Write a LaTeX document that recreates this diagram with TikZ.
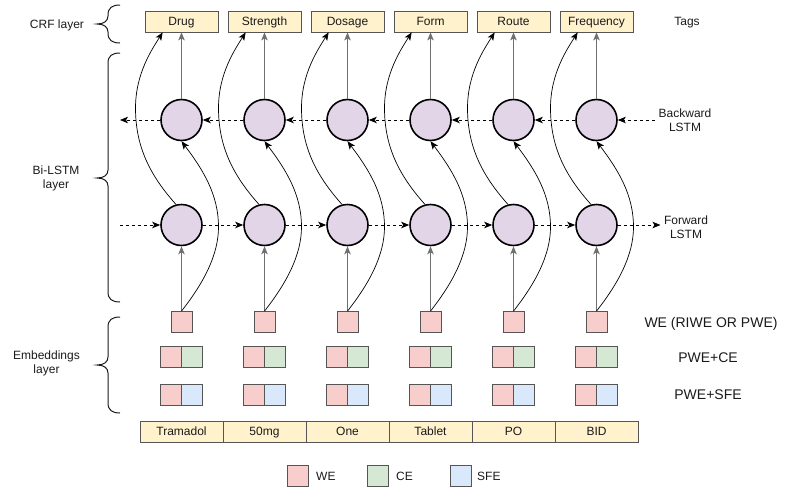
\documentclass[tikz,border=0pt]{standalone}
\usepackage{fontspec}
\setmainfont{Liberation Sans}
\usetikzlibrary{arrows.meta,calc}
\definecolor{pinkf}{HTML}{F8CECC}
\definecolor{greenf}{HTML}{D5E8D4}
\definecolor{bluef}{HTML}{DAE8FC}
\definecolor{yellowf}{HTML}{FFF2CC}
\definecolor{purplef}{HTML}{E1D5E7}
\definecolor{boxline}{HTML}{555555}
\definecolor{arrgray}{HTML}{707070}
\definecolor{txt}{HTML}{1A1A1A}
\newcommand\layerbrace[3]{%
  \draw[line width=1pt,txt] (120,#1) .. controls (112,#1) and (108,#1+3) .. (108,#1+10)
    -- (108,#3-8) .. controls (108,#3-3) and (104,#3) .. (97,#3)
    .. controls (104,#3) and (108,#3+3) .. (108,#3+8)
    -- (108,#2-10) .. controls (108,#2-3) and (112,#2) .. (120,#2);}
\begin{document}
\begin{tikzpicture}[x=1pt,y=-1pt,
  font=\fontsize{12}{14}\selectfont, text=txt,
  capcenter/.style={text height=8.6pt, text depth=0pt},
  tagbox/.style={capcenter, draw=boxline, fill=yellowf, minimum width=73pt, minimum height=21pt, inner sep=0pt, line width=0.8pt},
  wordcell/.style={capcenter, draw=boxline, fill=yellowf, minimum width=83pt, minimum height=21pt, inner sep=0pt, line width=0.8pt},
  lstm/.style={circle, draw=black, line width=1.6pt, fill=purplef, minimum size=41pt, inner sep=0pt},
  sq/.style={draw=boxline, line width=0.8pt, minimum width=21pt, minimum height=21pt, inner sep=0pt},
  tip/.style={-{Stealth[length=8pt,width=6.5pt,inset=2pt]}},
  vline/.style={tip, draw=arrgray, line width=1pt},
  curveline/.style={tip, draw=black, line width=0.7pt},
  dashline/.style={tip, draw=black, line width=0.8pt, dash pattern=on 3pt off 3pt},
  biglabel/.style={font=\fontsize{14}{17}\selectfont, text height=10pt, text depth=0pt}
]
\useasboundingbox (0,0) rectangle (800,498);

\foreach \i/\tg/\wordtxt in {1/Drug/Tramadol, 2/Strength/50mg, 3/Dosage/One, 4/Form/Tablet, 5/Route/PO, 6/Frequency/BID}{
  \pgfmathsetmacro\c{181.5+83*(\i-1)}
  \node[tagbox] (t\i) at (\c,21.5) {\tg};
  \node[lstm] (b\i) at (\c,120) {};
  \node[lstm] (f\i) at (\c,225) {};
  \node[sq,fill=pinkf] (we\i) at (\c,322) {};
  \node[sq,fill=pinkf] (pa\i) at (\c-10.5,357) {};
  \node[sq,fill=greenf] (pc\i) at (\c+10.5,357) {};
  \node[sq,fill=pinkf] (pb\i) at (\c-10.5,394.5) {};
  \node[sq,fill=bluef] (ps\i) at (\c+10.5,394.5) {};
  \node[wordcell] (w\i) at (\c,431.5) {\wordtxt};
  \coordinate (mr\i) at (\c+37,227);
  \coordinate (ml\i) at (\c-46,108);
  \draw[vline] (we\i.north) -- (f\i.south);
  \draw[vline] (b\i.north) -- (t\i.south);
  \draw[curveline] (we\i.north) .. controls +(22,-28) and +(0,28) .. (mr\i)
       .. controls +(0,-32) and +(22,29) .. (b\i.south);
  \draw[curveline] (f\i.105) .. controls +(-25,-28) and +(0,40) .. (ml\i)
       .. controls +(0,-35) and +(-10,16) .. (t\i.210);
}

% recurrent dashed connections
\node[align=center] (bwlab) at (685,120) {Backward\\LSTM};
\node[align=center] (fwlab) at (686,227.5) {Forward\\LSTM};
\coordinate (bl) at (120,120);
\coordinate (fl) at (120,225);
\draw[dashline] (bwlab.west) -- (b6.east);
\foreach \i/\j in {6/5,5/4,4/3,3/2,2/1} \draw[dashline] (b\i.west) -- (b\j.east);
\draw[dashline] (b1.west) -- (bl);
\draw[dashline] (fl) -- (f1.west);
\foreach \i/\j in {1/2,2/3,3/4,4/5,5/6} \draw[dashline] (f\i.east) -- (f\j.west);
\draw[dashline] (f6.east) -- (f6.east -| fwlab.west);

% right labels
\node[capcenter] (tags) at (687,21.5) {Tags};
\node[biglabel] (lwe) at (711,322) {WE (RIWE OR PWE)};
\node[biglabel] (lce) at (708,357.5) {PWE+CE};
\node[biglabel] (lsfe) at (708,394.5) {PWE+SFE};

% left labels and braces
\node[capcenter] (crf) at (57,24) {CRF layer};
\node[align=center] (bil) at (56,178) {Bi-LSTM\\layer};
\node[align=center] (eml) at (46.5,363.5) {Embeddings\\layer};
\layerbrace{5}{43}{24}
\layerbrace{53}{302}{178}
\layerbrace{317}{413}{365}

% legend
\node[sq,fill=pinkf] (gwe) at (297.5,476) {};
\node[capcenter,anchor=west,inner sep=0pt] (gwet) at (316,476) {WE};
\node[sq,fill=greenf] (gce) at (377.5,476) {};
\node[capcenter,anchor=west,inner sep=0pt] (gcet) at (396,476) {CE};
\node[sq,fill=bluef] (gsfe) at (460.5,476) {};
\node[capcenter,anchor=west,inner sep=0pt] (gsfet) at (477,476) {SFE};
\end{tikzpicture}
\end{document}
